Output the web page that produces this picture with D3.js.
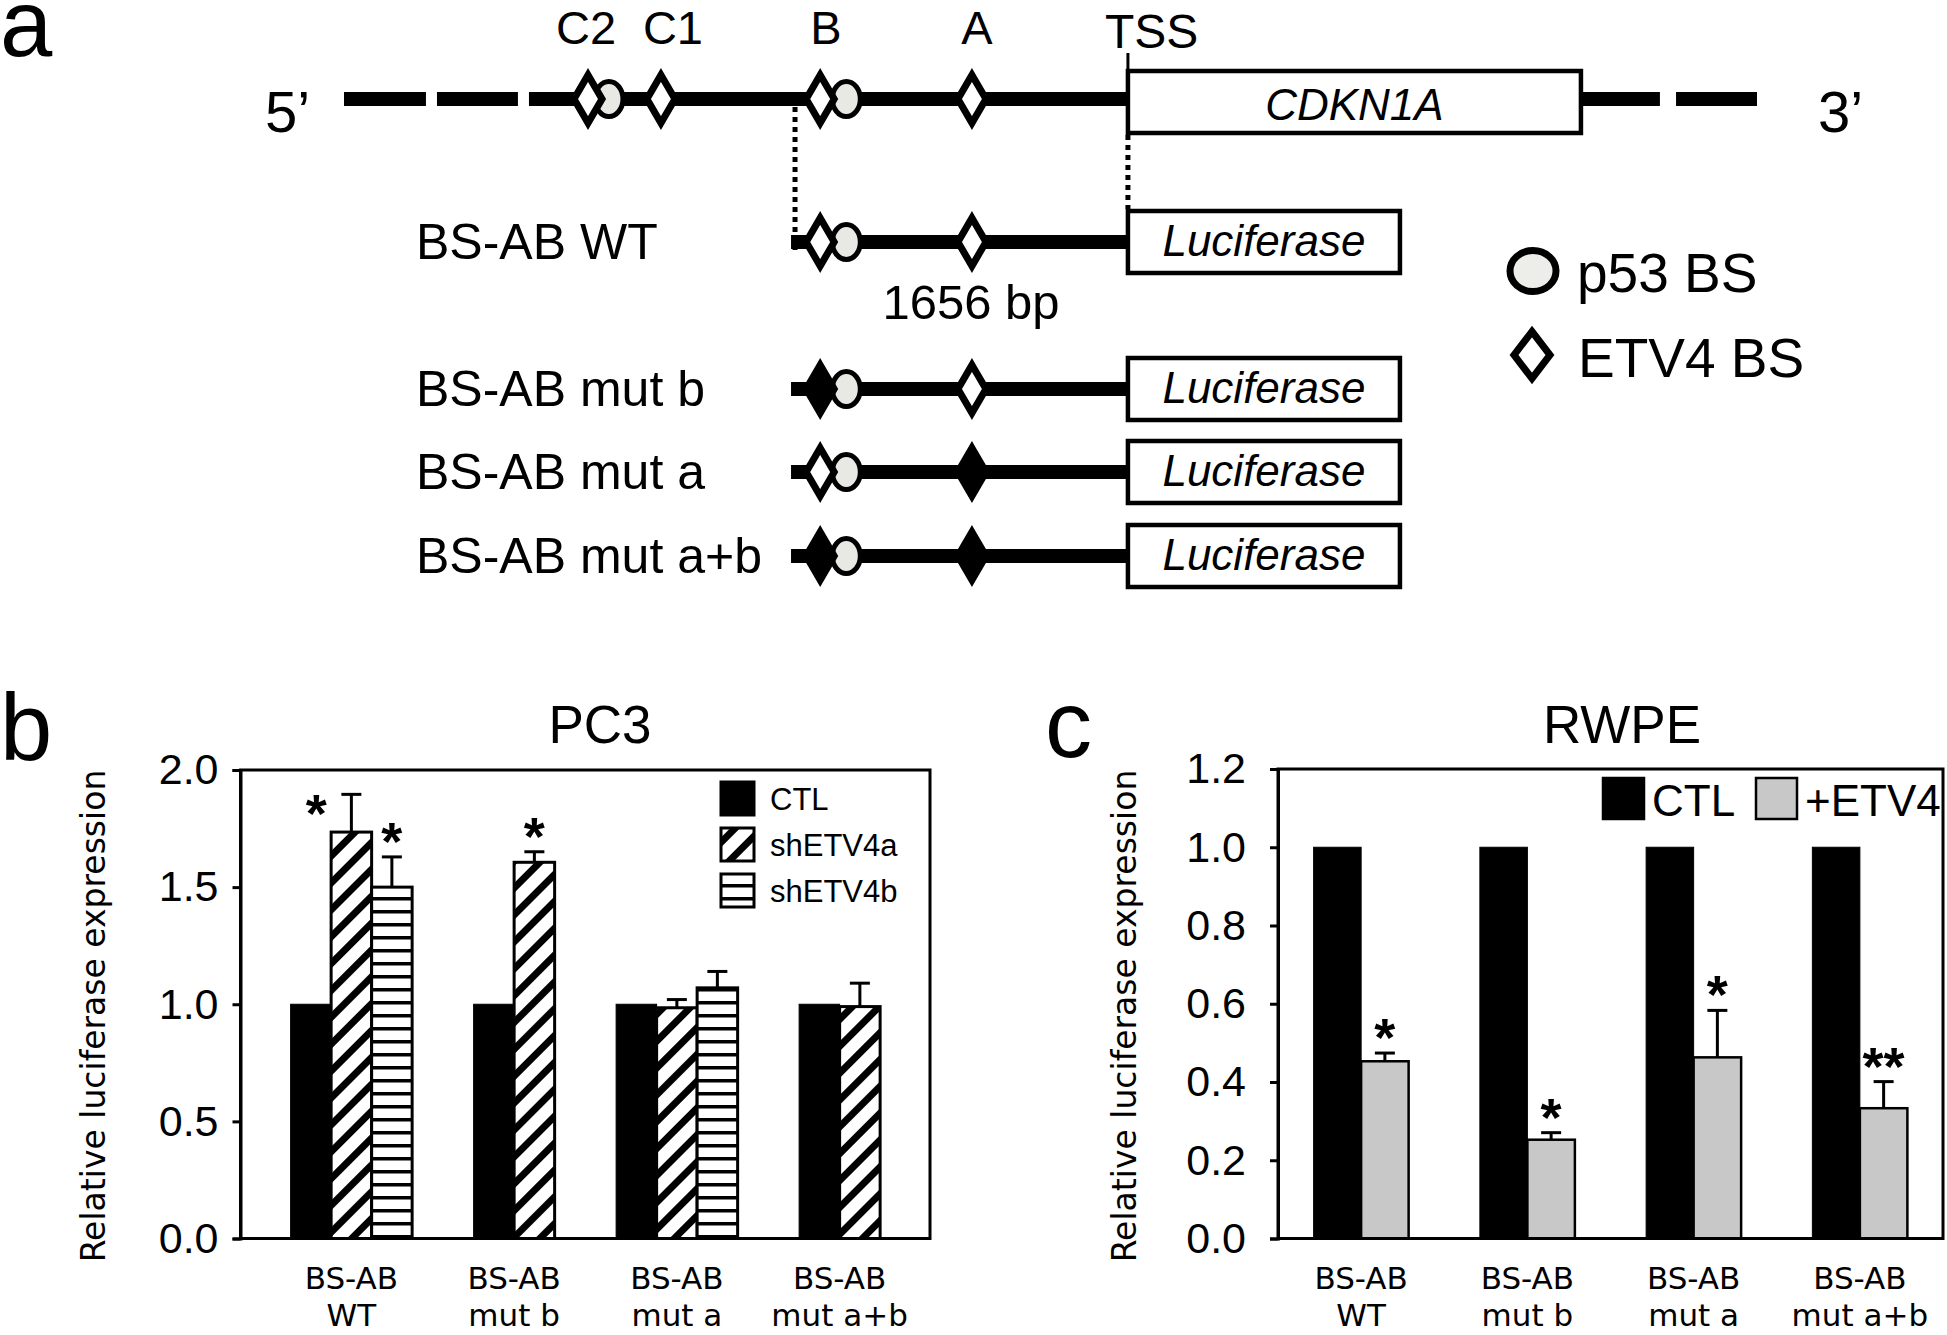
<!DOCTYPE html>
<html><head><meta charset="utf-8">
<script src="https://cdn.jsdelivr.net/npm/d3@7"></script>
<style>html,body{margin:0;padding:0;background:#fff}svg{display:block}</style>
</head><body>
<svg id="fig" width="1947" height="1335"></svg>
<script>
// ================= DATA =================
// Panel a: schematic positions (schematic units 0..100 along the locus)
const geneSegments = [[0,5.80],[6.58,12.31],[13.09,55.48],[87.54,93.13],[94.27,100]];
const siteNames = ["C2","C1","B","A"];
const siteLabelPos = [17.13, 23.28, 34.11, 44.80];
const p53Sites = [18.75, 35.55];
const etv4Sites = [17.27, 22.43, 33.70, 44.44];
const tssPos = 55.48, geneEnd = 87.54, constructStart = 31.92, lucEnd = 74.73;
const constructNames = ["BS-AB WT","BS-AB mut b","BS-AB mut a","BS-AB mut a+b"];
const constructP53 = [35.55];
const constructEtv4 = [33.70, 44.44];
const mutatedB = [false, true, false, true];
const mutatedA = [false, false, true, true];

// Panel b: PC3
const categories = [["BS-AB","WT"],["BS-AB","mut b"],["BS-AB","mut a"],["BS-AB","mut a+b"]];
const pc3Series = ["CTL","shETV4a","shETV4b"];
const pc3CTL = [1.0, 1.0, 1.0, 1.0];
const pc3ShA = [1.735, 1.606, 0.985, 0.99];
const pc3ShAErr = [0.161, 0.045, 0.035, 0.10];
const pc3ShB = [1.50, null, 1.07, null];
const pc3ShBErr = [0.129, null, 0.07, null];
const pc3StarSeries = [["shETV4a","shETV4b"],["shETV4a"],[],[]];
const pc3Ticks = [0.0, 0.5, 1.0, 1.5, 2.0];

// Panel c: RWPE
const rwpeSeries = ["CTL","+ETV4"];
const rwpeCTL = [1.0, 1.0, 1.0, 1.0];
const rwpeETV4 = [0.453, 0.2525, 0.463, 0.333];
const rwpeETV4Err = [0.021, 0.018, 0.12, 0.068];
const rwpeStars = ["*","*","*","**"];
const rwpeTicks = [0.0, 0.2, 0.4, 0.6, 0.8, 1.0, 1.2];

// ================= DRAW =================
const SANS = "'Liberation Sans', Arial, Helvetica, sans-serif";
const VERD = "'DejaVu Sans', Verdana, sans-serif";
const svg = d3.select("#fig");
svg.append("rect").attr("width",1947).attr("height",1335).attr("fill","#fff");
const defs = svg.append("defs");
const pd = defs.append("pattern").attr("id","diag").attr("patternUnits","userSpaceOnUse")
  .attr("width",19).attr("height",19).attr("patternTransform","rotate(45)");
pd.append("rect").attr("width",19).attr("height",19).attr("fill","#fff");
pd.append("rect").attr("width",7).attr("height",19).attr("fill","#000");
const ph = defs.append("pattern").attr("id","horiz").attr("patternUnits","userSpaceOnUse")
  .attr("width",10).attr("height",13);
ph.append("rect").attr("width",10).attr("height",13).attr("fill","#fff");
ph.append("rect").attr("width",10).attr("height",3.5).attr("fill","#000");

function txt(g, x, y, s, size, opts={}) {
  return g.append("text").attr("x",x).attr("y",y).text(s)
    .attr("font-family", opts.family || SANS).attr("font-size", size)
    .attr("font-style", opts.italic ? "italic" : "normal")
    .attr("font-weight", opts.bold ? "bold" : "normal")
    .attr("text-anchor", opts.anchor || "start").attr("fill","#000");
}
const diamondPath = (w,h) => `M0,${-h}L${w},0L0,${h}L${-w},0Z`;

// ---------- Panel a ----------
const A = svg.append("g");
txt(A, 0, 56, "a", 94);
const sx = d3.scaleLinear().domain([0,100]).range([344,1757]);
const geneY = 99, lineW = 14;

A.selectAll("line.seg").data(geneSegments).join("line").attr("class","seg")
  .attr("x1",d=>sx(d[0])).attr("x2",d=>sx(d[1])).attr("y1",geneY).attr("y2",geneY)
  .attr("stroke","#000").attr("stroke-width",lineW);
txt(A, 265, 132, "5\u2019", 58);
txt(A, 1818, 132, "3\u2019", 58);
// gene box
A.append("rect").attr("x",sx(tssPos)).attr("y",71).attr("width",sx(geneEnd)-sx(tssPos)).attr("height",62)
  .attr("fill","#fff").attr("stroke","#000").attr("stroke-width",4.5);
txt(A, (sx(tssPos)+sx(geneEnd))/2, 120, "CDKN1A", 44, {italic:true, anchor:"middle"});
// TSS
A.append("line").attr("x1",sx(tssPos)).attr("x2",sx(tssPos)).attr("y1",53).attr("y2",71)
  .attr("stroke","#000").attr("stroke-width",3);
txt(A, sx(tssPos)-23, 48, "TSS", 48);
// site labels
siteNames.forEach((n,i)=> txt(A, sx(siteLabelPos[i]), 44, n, 47, {anchor:"middle"}));
// sites on gene
A.selectAll("ellipse.g").data(p53Sites).join("ellipse").attr("class","g")
  .attr("cx",d=>sx(d)).attr("cy",geneY).attr("rx",14).attr("ry",17.5)
  .attr("fill","#e8e8e4").attr("stroke","#000").attr("stroke-width",5);
A.selectAll("path.g").data(etv4Sites).join("path").attr("class","g")
  .attr("transform",d=>`translate(${sx(d)},${geneY})`).attr("d",diamondPath(14,24))
  .attr("fill","#fff").attr("stroke","#000").attr("stroke-width",7).attr("stroke-linejoin","miter");
// dotted guide lines
A.append("line").attr("x1",sx(constructStart)).attr("x2",sx(constructStart)).attr("y1",107).attr("y2",250)
  .attr("stroke","#000").attr("stroke-width",5).attr("stroke-dasharray","5,5");
A.append("line").attr("x1",sx(tssPos)).attr("x2",sx(tssPos)).attr("y1",135).attr("y2",209)
  .attr("stroke","#000").attr("stroke-width",5).attr("stroke-dasharray","5,5");

// constructs
const rowY = [242, 389, 472, 556];
constructNames.forEach((name,i)=>{
  const y = rowY[i];
  const g = A.append("g");
  txt(g, 416, y+17, name, 50);
  g.append("line").attr("x1",sx(constructStart)-4).attr("x2",sx(tssPos)).attr("y1",y).attr("y2",y)
    .attr("stroke","#000").attr("stroke-width",lineW);
  g.selectAll("ellipse").data(constructP53).join("ellipse")
    .attr("cx",d=>sx(d)).attr("cy",y).attr("rx",14).attr("ry",17.5)
    .attr("fill","#e8e8e4").attr("stroke","#000").attr("stroke-width",5);
  const muts = [mutatedB[i], mutatedA[i]];
  g.selectAll("path").data(constructEtv4).join("path")
    .attr("transform",d=>`translate(${sx(d)},${y})`).attr("d",diamondPath(14,24))
    .attr("fill",(d,j)=>muts[j]?"#000":"#fff").attr("stroke","#000").attr("stroke-width",7);
  g.append("rect").attr("x",sx(tssPos)).attr("y",y-31).attr("width",sx(lucEnd)-sx(tssPos)).attr("height",62)
    .attr("fill","#fff").attr("stroke","#000").attr("stroke-width",4.5);
  txt(g, (sx(tssPos)+sx(lucEnd))/2, y+14, "Luciferase", 44, {italic:true, anchor:"middle"});
});
txt(A, 971, 319, "1656 bp", 49, {anchor:"middle"});
// legend
A.append("ellipse").attr("cx",1533).attr("cy",271).attr("rx",23).attr("ry",20.5)
  .attr("fill","#ededea").attr("stroke","#000").attr("stroke-width",7);
txt(A, 1577, 292, "p53 BS", 55);
A.append("path").attr("transform","translate(1532,355)").attr("d",diamondPath(18,23.5))
  .attr("fill","#fff").attr("stroke","#000").attr("stroke-width",7);
txt(A, 1578, 377, "ETV4 BS", 55);

// ---------- bar chart helper ----------
function barPanel(cfg){
  const g = svg.append("g");
  const y = d3.scaleLinear().domain(cfg.domain).range([cfg.bottom, cfg.top]);
  const x = d3.scaleBand().domain(d3.range(categories.length)).range(cfg.bandRange).padding(0);
  cfg.groups.forEach((bars,gi)=>{
    const c = x(gi) + x.bandwidth()/2;
    const n = bars.length;
    bars.forEach((b,bi)=>{
      const x0 = c - n*cfg.bw/2 + bi*cfg.bw;
      const yt = y(b.v);
      if (b.err) {
        g.append("line").attr("x1",x0+cfg.bw/2).attr("x2",x0+cfg.bw/2).attr("y1",yt).attr("y2",y(b.v+b.err))
          .attr("stroke","#000").attr("stroke-width",3);
        g.append("line").attr("x1",x0+cfg.bw/2-10).attr("x2",x0+cfg.bw/2+10).attr("y1",y(b.v+b.err)).attr("y2",y(b.v+b.err))
          .attr("stroke","#000").attr("stroke-width",3);
      }
      g.append("rect").attr("x",x0).attr("y",yt).attr("width",cfg.bw).attr("height",y(0)-yt)
        .attr("fill",b.fill).attr("stroke","#000").attr("stroke-width",b.sw);
      if (b.star) {
        const sx0 = b.starLeft ? x0+cfg.bw/2-35 : x0+cfg.bw/2;
        const sy0 = b.starLeft ? yt : y(b.v+b.err)+3;
        txt(g, sx0, sy0, b.star, 54, {bold:true, anchor:"middle"});
      }
    });
  });
  g.append("rect").attr("x",cfg.left).attr("y",cfg.top).attr("width",cfg.right-cfg.left).attr("height",cfg.bottom-cfg.top)
    .attr("fill","none").attr("stroke","#000").attr("stroke-width",3);
  const ax = g.append("g").attr("transform",`translate(${cfg.left},0)`)
    .call(d3.axisLeft(y).tickValues(cfg.ticks).tickFormat(d3.format(".1f")).tickSize(8).tickPadding(cfg.tickPad));
  ax.select(".domain").attr("stroke-width",3);
  ax.selectAll(".tick line").attr("stroke-width",3);
  ax.selectAll(".tick text").attr("font-family",SANS).attr("font-size",43).attr("fill","#000");
  categories.forEach((lines,gi)=>{
    const c = x(gi)+x.bandwidth()/2;
    const t = g.append("text").attr("font-family",VERD).attr("font-size",31).attr("text-anchor","middle");
    t.append("tspan").attr("x",c).attr("y",1289).text(lines[0]);
    t.append("tspan").attr("x",c).attr("y",1326).text(lines[1]);
  });
  g.append("text").attr("transform",`translate(${cfg.titleX},1016) rotate(-90)`)
    .attr("font-family",VERD).attr("font-size",33).attr("text-anchor","middle")
    .attr("dominant-baseline","central").text("Relative luciferase expression");
  txt(g, cfg.headX, 743, cfg.head, 53, {anchor:"middle"});
  return g;
}

// ---------- Panel b ----------
const pc3Groups = categories.map((c,i)=>{
  const arr = [{v:pc3CTL[i], fill:"#000", sw:1}];
  arr.push({v:pc3ShA[i], err:pc3ShAErr[i], fill:"url(#diag)", sw:3,
    star: pc3StarSeries[i].includes("shETV4a") ? "*" : null, starLeft: i===0});
  if (pc3ShB[i]!==null) arr.push({v:pc3ShB[i], err:pc3ShBErr[i], fill:"url(#horiz)", sw:3,
    star: pc3StarSeries[i].includes("shETV4b") ? "*" : null});
  return arr;
});
const B = barPanel({domain:[0,2], top:770, bottom:1238.5, left:240.5, right:930, bandRange:[270,921],
  bw:40.5, groups:pc3Groups, ticks:pc3Ticks, tickPad:14, titleX:93, headX:600, head:"PC3"});
txt(B, 0, 760, "b", 94);
const legFills = ["#000","url(#diag)","url(#horiz)"];
pc3Series.forEach((s,i)=>{
  const yy = 782 + i*46;
  B.append("rect").attr("x",721).attr("y",yy).attr("width",33).attr("height",33)
    .attr("fill",legFills[i]).attr("stroke","#000").attr("stroke-width",3);
  txt(B, 770, yy+28, s, 31);
});

// ---------- Panel c ----------
const rwpeGroups = categories.map((c,i)=>[
  {v:rwpeCTL[i], fill:"#000", sw:1},
  {v:rwpeETV4[i], err:rwpeETV4Err[i], fill:"#c8c8c8", sw:2.5, star:rwpeStars[i]}
]);
const C = barPanel({domain:[0,1.2], top:769, bottom:1238.5, left:1278, right:1943, bandRange:[1278,1943],
  bw:47.5, groups:rwpeGroups, ticks:rwpeTicks, tickPad:24, titleX:1124, headX:1622, head:"RWPE"});
txt(C, 1045, 757, "c", 94);
const legC = [{x:1603, fill:"#000"}, {x:1756, fill:"#c8c8c8"}];
rwpeSeries.forEach((s,i)=>{
  C.append("rect").attr("x",legC[i].x).attr("y",778).attr("width",41).attr("height",41)
    .attr("fill",legC[i].fill).attr("stroke","#000").attr("stroke-width",2.5);
  txt(C, legC[i].x+49, 816, s, 44);
});
</script>
</body></html>
